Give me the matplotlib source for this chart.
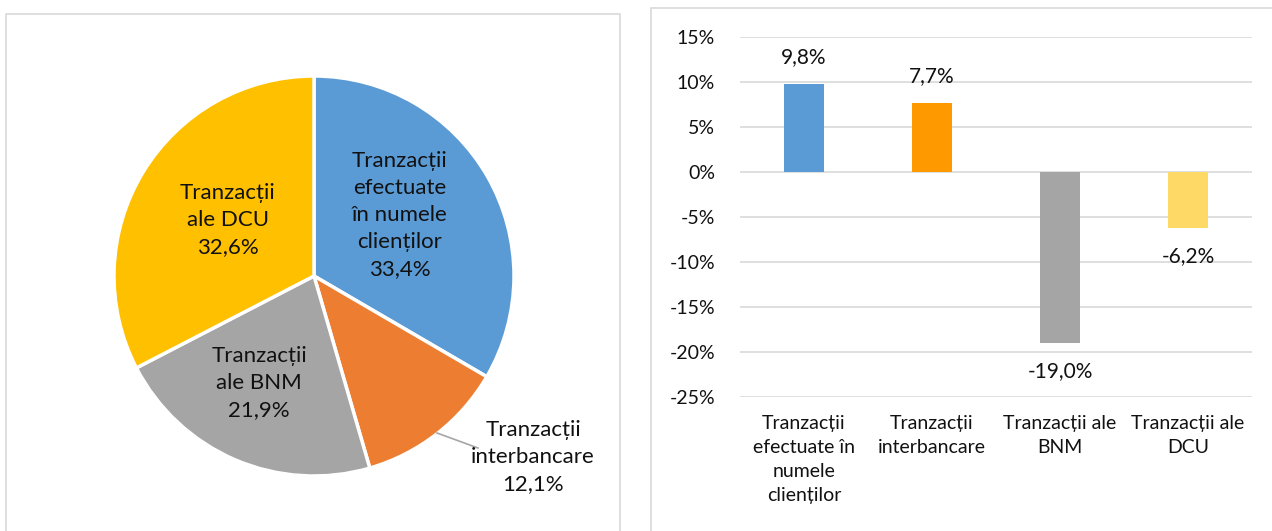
import matplotlib
matplotlib.use('Agg')
import matplotlib.pyplot as plt
from matplotlib.patches import Rectangle
from matplotlib.ticker import FuncFormatter, MultipleLocator

plt.rcParams['font.family'] = ['Lato', 'Noto Sans', 'DejaVu Sans']

# pie: structure of transactions
pie_labels = ['Tranzacții\nefectuate\nîn numele\nclienților', 'Tranzacții\ninterbancare',
              'Tranzacții\nale BNM', 'Tranzacții\nale DCU']
pie_shares = [33.4, 12.1, 21.9, 32.6]
pie_colors = ['#5B9BD5', '#ED7D31', '#A5A5A5', '#FFC000']

# bars: annual change
bar_labels = ['Tranzacții\nefectuate în\nnumele\nclienților', 'Tranzacții\ninterbancare',
              'Tranzacții ale\nBNM', 'Tranzacții ale\nDCU']
bar_changes = [9.8, 7.7, -19.0, -6.2]
bar_colors = ['#5B9BD5', '#FF9900', '#A5A5A5', '#FFD966']

W, H = 1272, 531
fig = plt.figure(figsize=(W / 100, H / 100), dpi=100)

# panel frames
fig.patches.append(Rectangle((6 / W, -0.05), (620 - 6) / W, 1.05 - 14 / H,
                             transform=fig.transFigure, fill=False,
                             edgecolor='#D9D9D9', linewidth=1.2))
fig.patches.append(Rectangle((651 / W, -0.05), 0.5, 1.05 - 8 / H,
                             transform=fig.transFigure, fill=False,
                             edgecolor='#D9D9D9', linewidth=1.2))

# ---- pie ----
cx, cy, r = 314, 276, 200
ax1 = fig.add_axes([(cx - r) / W, 1 - (cy + r) / H, 2 * r / W, 2 * r / H])
ax1.pie(pie_shares, colors=pie_colors, startangle=90, counterclock=False,
        wedgeprops=dict(edgecolor='white', linewidth=2.5))
ax1.set_xlim(-1, 1)
ax1.set_ylim(-1, 1)
ax1.set_aspect('equal')
ax1.axis('off')

def fmt(v):
    return f'{v:.1f}%'.replace('.', ',')

label_pos = [(0.43, 0.305), (1.095, -0.905), (-0.275, -0.535), (-0.43, 0.28)]
for lab, val, (x, y) in zip(pie_labels, pie_shares, label_pos):
    ax1.text(x, y, lab + '\n' + fmt(val), ha='center', va='center',
             fontsize=16, linespacing=1.45, color='#111111', clip_on=False)
ax1.plot([0.615, 0.82], [-0.785, -0.86], color='#A6A6A6', linewidth=1.2,
         clip_on=False)

# ---- bars ----
ax2 = fig.add_axes([740 / W, 1 - 397 / H, 512 / W, 360 / H])
xs = range(len(bar_changes))
ax2.bar(xs, bar_changes, width=0.31, color=bar_colors, zorder=3)
ax2.set_xlim(-0.5, 3.5)
ax2.set_ylim(-25, 15)
ax2.yaxis.set_major_locator(MultipleLocator(5))
ax2.yaxis.set_major_formatter(FuncFormatter(lambda v, p: f'{int(round(v))}%'))
ax2.grid(axis='y', color='#D9D9D9', linewidth=1.2, zorder=0)
for s in ax2.spines.values():
    s.set_visible(False)
ax2.tick_params(axis='both', length=0, labelsize=14, colors='#111111')
ax2.tick_params(axis='y', pad=18)
ax2.tick_params(axis='x', pad=13)
ax2.set_xticks(list(xs))
ax2.set_xticklabels(bar_labels, linespacing=1.5, va='top')
for x, v in zip(xs, bar_changes):
    off = 19.5 if v > 0 else -20.5
    ax2.annotate(fmt(v), (x, v), xytext=(0, off), textcoords='offset points',
                 ha='center', va='center', fontsize=15, color='#111111')

fig.savefig('out.png', dpi=100)
